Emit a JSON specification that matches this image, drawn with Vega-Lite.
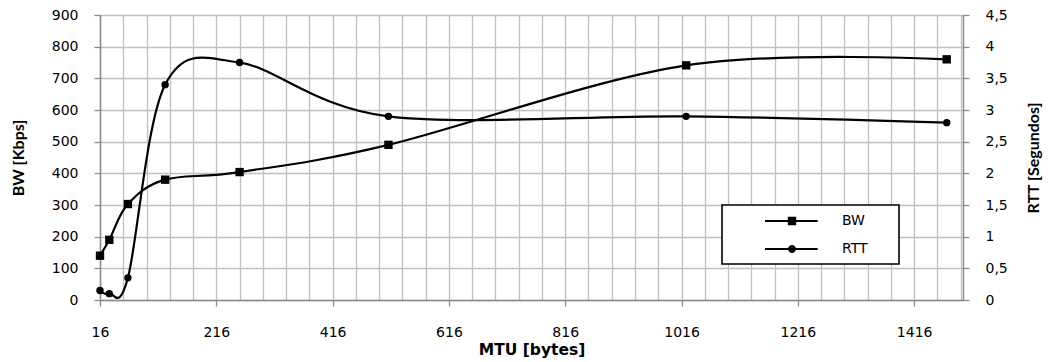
{
  "$schema": "https://vega.github.io/schema/vega-lite/v6.json",
  "width": 863,
  "height": 285,
  "autosize": "none",
  "padding": {"left": 100, "top": 15, "right": 98, "bottom": 62},
  "background": "white",
  "config": {
    "font": "DejaVu Sans",
    "axis": {
      "labelFont": "DejaVu Sans",
      "titleFont": "DejaVu Sans",
      "labelFontSize": 14,
      "labelColor": "#000000",
      "titleFontSize": 15.5,
      "titleFontWeight": "bold",
      "titleColor": "#000000",
      "domainColor": "#8a8a8a",
      "domainWidth": 1.5,
      "tickColor": "#8a8a8a",
      "tickWidth": 1.3,
      "tickSize": 6
    },
    "legend": {
      "strokeWidth": 1.6
    }
  },
  "data": {
    "values": [
      {"mtu": 16, "serie": "BW", "valor": 140},
      {"mtu": 32, "serie": "BW", "valor": 190},
      {"mtu": 64, "serie": "BW", "valor": 303},
      {"mtu": 128, "serie": "BW", "valor": 380},
      {"mtu": 256, "serie": "BW", "valor": 404},
      {"mtu": 512, "serie": "BW", "valor": 490},
      {"mtu": 1024, "serie": "BW", "valor": 741},
      {"mtu": 1472, "serie": "BW", "valor": 760},
      {"mtu": 16, "serie": "RTT", "valor": 0.15},
      {"mtu": 32, "serie": "RTT", "valor": 0.1},
      {"mtu": 64, "serie": "RTT", "valor": 0.35},
      {"mtu": 128, "serie": "RTT", "valor": 3.4},
      {"mtu": 256, "serie": "RTT", "valor": 3.75},
      {"mtu": 512, "serie": "RTT", "valor": 2.9},
      {"mtu": 1024, "serie": "RTT", "valor": 2.9},
      {"mtu": 1472, "serie": "RTT", "valor": 2.8}
    ]
  },
  "encoding": {
    "x": {
      "field": "mtu",
      "type": "quantitative",
      "scale": {"domain": [16, 1500], "nice": false, "zero": false},
      "axis": {
        "title": "MTU [bytes]",
        "values": [16, 56, 96, 136, 176, 216, 256, 296, 336, 376, 416, 456, 496, 536, 576, 616, 656, 696, 736, 776, 816, 856, 896, 936, 976, 1016, 1056, 1096, 1136, 1176, 1216, 1256, 1296, 1336, 1376, 1416, 1456, 1496],
        "labelExpr": "(datum.value - 16) % 200 === 0 ? format(datum.value, 'd') : ''",
        "tickOpacity": {"condition": {"test": "(datum.value - 16) % 200 === 0", "value": 1}, "value": 0},
        "grid": true,
        "gridColor": "#c0c0c0",
        "gridWidth": 1.3,
        "gridOpacity": 1,
        "labelPadding": 19,
        "labelOverlap": false,
        "labelFlush": false,
        "titleY": 49,
        "titleBaseline": "middle"
      }
    }
  },
  "layer": [
    {
      "transform": [{"filter": "datum.serie === 'BW'"}],
      "encoding": {
        "y": {
          "field": "valor",
          "type": "quantitative",
          "scale": {"domain": [0, 900], "nice": false},
          "axis": {
            "title": "BW [Kbps]",
            "orient": "left",
            "values": [0, 100, 200, 300, 400, 500, 600, 700, 800, 900],
            "grid": true,
            "gridColor": "#c0c0c0",
            "gridWidth": 1.3,
            "gridOpacity": 1,
            "labelPadding": 16,
            "titleFont": "Lato",
            "titleFontSize": 16,
            "titleAngle": 270,
            "titleX": -82,
            "titleBaseline": "middle"
          }
        }
      },
      "layer": [
        {
          "mark": {"type": "line", "interpolate": "cardinal", "color": "#000000", "strokeWidth": 2.2}
        },
        {
          "mark": {"type": "point", "shape": "square", "filled": true, "color": "#000000", "opacity": 1, "size": 70}
        }
      ]
    },
    {
      "transform": [{"filter": "datum.serie === 'RTT'"}],
      "encoding": {
        "y": {
          "field": "valor",
          "type": "quantitative",
          "scale": {"domain": [0, 4.5], "nice": false},
          "axis": {
            "title": "RTT [Segundos]",
            "orient": "right",
            "values": [0, 0.5, 1, 1.5, 2, 2.5, 3, 3.5, 4, 4.5],
            "labelExpr": "replace(toString(datum.value), '.', ',')",
            "grid": false,
            "labelPadding": 16,
            "titleFont": "Lato",
            "titleFontSize": 16,
            "titleAngle": 270,
            "titleX": 70,
            "titleBaseline": "middle"
          }
        }
      },
      "layer": [
        {
          "mark": {"type": "line", "interpolate": "cardinal", "color": "#000000", "strokeWidth": 2.2}
        },
        {
          "mark": {"type": "point", "shape": "circle", "filled": true, "color": "#000000", "opacity": 1, "size": 55}
        },
        {
          "description": "Legend carrier: invisible points whose shape scale holds the line-and-marker legend glyphs.",
          "transform": [{"filter": "datum.mtu === 16"}],
          "mark": {"type": "point", "fill": "#000000", "opacity": 0, "size": 256},
          "encoding": {
            "shape": {
              "field": "serie",
              "type": "nominal",
              "scale": {
                "domain": ["BW", "RTT"],
                "range": [
                  "M-1.125,0M3.375,-0.125H6.3V0.125H3.375ZM7.2,-0.125H9.96V0.125H7.2ZM6.225,-0.525H7.275V0.525H6.225Z",
                  "M-1.125,0M3.375,-0.125H6.3V0.125H3.375ZM7.2,-0.125H9.96V0.125H7.2ZM7.25,0A0.5,0.5 0 1,1 6.25,0A0.5,0.5 0 1,1 7.25,0Z"
                ]
              },
              "legend": {
                "title": "\u00a0",
                "titleOrient": "right",
                "titleFontSize": 1,
                "titlePadding": 23,
                "orient": "none",
                "legendX": 622,
                "legendY": 190,
                "padding": 8,
                "rowPadding": 13,
                "strokeColor": "#000000",
                "fillColor": "#ffffff",
                "labelFont": "DejaVu Sans",
                "labelFontSize": 14,
                "labelColor": "#000000",
                "labelOffset": 96,
                "labelBaseline": "middle",
                "symbolSize": 256,
                "symbolOpacity": 1,
                "symbolFillColor": "#000000",
                "symbolStrokeColor": "#000000",
                "symbolStrokeWidth": 0,
                "values": ["BW", "RTT"]
              }
            }
          }
        }
      ]
    }
  ],
  "resolve": {"scale": {"y": "independent"}}
}
